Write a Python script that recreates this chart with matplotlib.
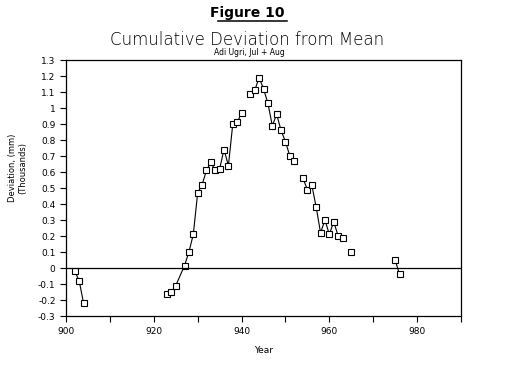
import numpy as np
import matplotlib
matplotlib.use("Agg")
import matplotlib.pyplot as plt

# cumulative deviation, thousands of mm (nan = gap in the line)
years = [902, 903, 904, 910,
         923, 924, 925, 927, 928, 929, 930, 931, 932, 933, 934, 935, 936, 937, 938, 939, 940, 941,
         942, 943, 944, 945, 946, 947, 948, 949, 950, 951, 952, 953,
         954, 955, 956, 957, 958, 959, 960, 961, 962, 963, 964,
         965, 970,
         975, 976]
values = [-0.02, -0.08, -0.22, np.nan,
          -0.165, -0.15, -0.11, 0.015, 0.10, 0.21, 0.47, 0.52, 0.61, 0.66, 0.61, 0.62, 0.74, 0.64, 0.90, 0.91, 0.97, np.nan,
          1.09, 1.11, 1.19, 1.12, 1.03, 0.89, 0.96, 0.86, 0.79, 0.70, 0.67, np.nan,
          0.56, 0.49, 0.52, 0.38, 0.22, 0.30, 0.21, 0.29, 0.20, 0.19, np.nan,
          0.10, np.nan,
          0.05, -0.04]

yticks = np.round(np.arange(-0.3, 1.31, 0.1), 1)
ytick_labels = ["%g" % v for v in yticks]
xticks_major = [900, 920, 940, 960, 980]
xticks_minor = [910, 930, 950, 970, 990]

fig = plt.figure(figsize=(5.09, 3.65), dpi=100)
ax = fig.add_axes([0.1297, 0.1342, 0.776, 0.7014])

ax.plot(years, values, color="black", linewidth=0.8, marker="s", markersize=4.2,
        markerfacecolor="white", markeredgecolor="black", markeredgewidth=0.8)
ax.axhline(0, color="black", linewidth=0.9)

ax.set_xlim(900, 990)
ax.set_ylim(-0.3, 1.3)
ax.set_yticks(yticks)
ax.set_yticklabels(ytick_labels)
ax.set_xticks(xticks_major)
ax.set_xticks(xticks_minor, minor=True)
ax.tick_params(axis="both", which="both", direction="out", length=4, width=0.8, labelsize=6.5)
ax.tick_params(axis="x", pad=4)
for s in ax.spines.values():
    s.set_linewidth(0.9)

ax.set_xlabel("Year", fontsize=6.5, labelpad=7)
fig.text(0.035, 0.54, "Deviation, (mm)\n(Thousands)", rotation=90, fontsize=6,
         ha="center", va="center", multialignment="center")

fig.text(0.485, 0.965, "Figure 10", fontsize=10, fontweight="bold", ha="center", va="center")
fig.add_artist(plt.Line2D([0.428, 0.563], [0.942, 0.942], color="black", linewidth=1.1))
fig.text(0.485, 0.89, "Cumulative Deviation from Mean", fontsize=12, fontweight="light",
         ha="center", va="center")
fig.text(0.49, 0.857, "Adi Ugri, Jul + Aug", fontsize=5.5, ha="center", va="center")

fig.savefig("out.png", dpi=100)
